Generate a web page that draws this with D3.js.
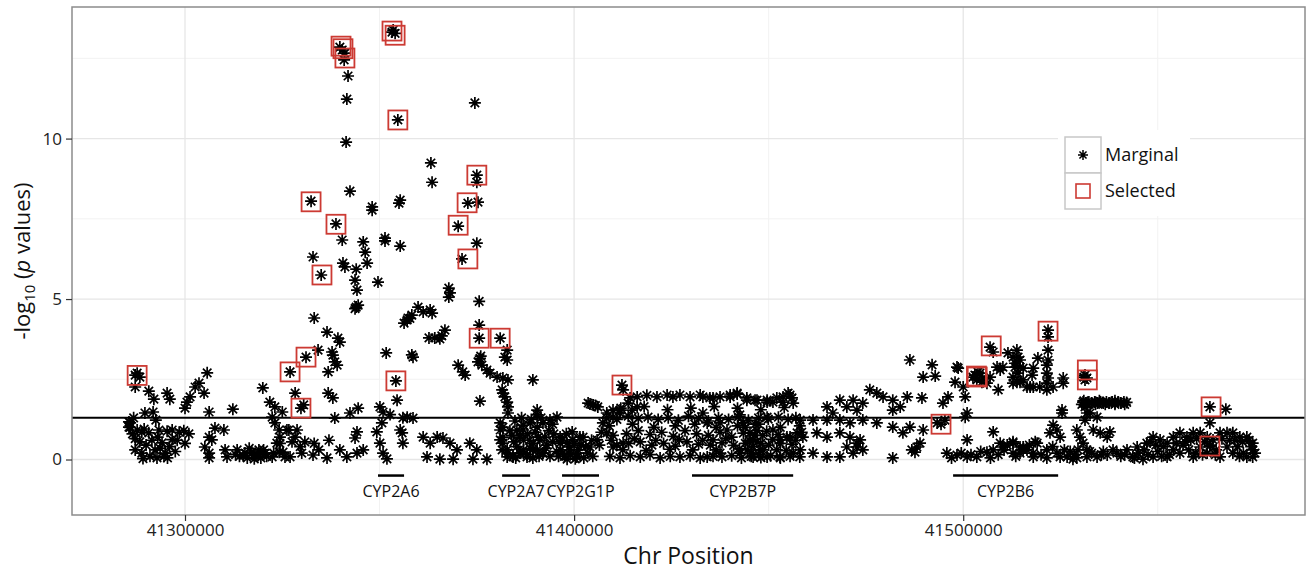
<!DOCTYPE html>
<html><head><meta charset="utf-8">
<script src="https://cdn.jsdelivr.net/npm/d3@7"></script>
<style>body{margin:0;background:#fff} svg text{font-family:'Open Sans',sans-serif}</style>
</head><body><svg id="c" width="1306" height="570"></svg>
<script>
// ---- axis / reference data ----
const xTicks = [41300000, 41400000, 41500000];
const xMinor = [41350000, 41450000, 41550000];
const yTicks = [0, 5, 10];
const yMinor = [2.5, 7.5, 12.5];
const threshold = 1.30103; // -log10(0.05)
const genes = ["CYP2A6", "CYP2A7", "CYP2G1P", "CYP2B7P", "CYP2B6"];
const geneStart = [41349600, 41381500, 41396900, 41430300, 41497400];
const geneEnd   = [41356300, 41388700, 41406400, 41456300, 41524400];
const geneLevel = -0.5, geneLabelLevel = -1.0;

// ---- marginal SNP results [position, -log10 p] ----
const marginalLeft = [
[41285600,1.17],[41285600,1.01],[41285900,1.14],[41285900,1.0],[41287200,2.63],[41287700,2.69],[41288400,2.57],
[41287200,2.26],[41290700,2.13],[41292000,1.88],[41295400,2.07],[41296100,1.88],[41289700,1.45],[41291800,1.48],
[41292500,1.23],[41287700,0.92],[41288900,0.85],[41290700,0.83],[41293300,0.92],[41295400,0.88],[41296700,0.92],
[41298500,0.85],[41299700,0.9],[41301000,0.8],[41287200,0.65],[41288400,0.55],[41291500,0.6],[41294100,0.52],
[41296700,0.62],[41300000,0.5],[41287200,0.3],[41288900,0.2],[41292300,0.3],[41294900,0.2],[41293600,0.35],
[41289200,0.03],[41292800,0.05],[41294600,0.1],[41300500,1.79],[41301300,1.95],[41302600,2.26],[41303600,2.38],
[41300000,1.6],[41304900,2.07],[41305700,2.7],[41306200,1.48],[41307700,0.98],[41310000,0.92],[41306200,0.7],
[41306900,0.61],[41305100,0.39],[41306200,0.2],[41306200,0.05],[41310300,0.3],[41310800,0.08],[41312300,1.57],
[41313400,0.3],[41315400,0.2],[41317200,0.23],[41319000,0.3],[41320600,0.2],[41322400,0.08],[41324200,0.23],
[41325700,0.08],[41327000,0.08],[41314000,0.1],[41316000,0.05],[41318000,0.12],[41319500,0.05],[41321000,0.1],
[41316500,0.35],[41318500,0.15],[41320000,2.23],[41321800,1.79],[41323100,1.64],[41325000,1.48],[41322400,1.32],
[41323100,1.14],[41324200,0.92],[41324400,0.7],[41323600,0.51],[41326700,0.92],[41328300,0.7],[41327500,0.55],
[41328300,2.07],[41325200,0.23],[41326200,0.92],[41328800,0.92],[41330800,0.55],[41327000,2.73],[41331100,3.19],
[41329800,1.6],[41330500,1.7],[41324400,0.5],[41329600,0.4],[41330000,0.2],
[41286500,0.8],[41290000,0.45],[41293000,0.7],[41296000,0.4],[41298000,0.6],[41289500,0.95],[41291000,0.1],
[41295500,0.05],[41297500,0.25],[41286800,1.3],[41315000,0.12],[41317800,0.02],[41320200,0.3],[41322800,0.2],
[41313000,0.15]
];
const marginalPeak = [
[41332900,6.31],[41335000,5.75],[41340600,6.12],[41341100,6.0],[41344000,5.93],[41346800,6.12],[41345800,6.78],
[41346300,6.46],[41340400,6.84],[41351400,6.81],[41355300,6.65],[41375000,6.74],[41343700,5.59],[41344200,5.28],
[41349600,5.53],[41344000,4.75],[41344500,4.81],[41343700,4.7],[41333200,4.41],[41336500,3.97],[41339300,3.78],
[41339800,3.66],[41334200,3.41],[41337800,3.35],[41338000,3.25],[41338500,3.04],[41339100,2.94],[41336800,2.73],
[41336800,2.07],[41338000,1.92],[41351700,3.32],[41358300,3.26],[41358600,3.19],[41356300,4.25],[41357300,4.41],
[41358300,4.5],[41357800,4.4],[41359900,4.75],[41361200,4.6],[41363000,4.66],[41363500,4.56],[41357100,4.35],
[41362700,3.79],[41364200,3.79],[41365500,3.76],[41366800,4.03],[41366000,3.85],[41354200,2.45],[41354500,1.85],
[41367800,5.34],[41368100,5.19],[41367800,5.06],[41375600,4.93],[41375600,4.19],[41371200,6.25],[41375600,3.78],
[41381000,3.78],[41370200,2.94],[41371400,2.73],[41372000,2.63],[41375300,3.04],[41376300,2.94],[41377600,2.79],
[41378400,2.69],[41380200,2.57],[41381700,2.54],[41383000,2.48],[41375800,3.15],[41376000,3.22],[41382200,3.19],
[41382800,3.41],[41382800,3.1],[41389400,2.48],[41375800,1.82],[41381500,2.17],[41382200,1.95],[41382800,1.79],
[41383000,1.64],[41383000,1.45],[41381700,2.07],[41390500,1.54],[41390500,1.39],
[41339800,12.85],[41340400,12.76],[41341100,12.66],[41340900,12.45],[41341900,11.95],[41341600,11.23],[41341400,9.89],
[41342400,8.36],[41348100,7.87],[41348100,7.77],[41355000,7.99],[41355300,8.08],[41353200,13.32],[41354000,13.28],
[41353500,13.38],[41354700,10.58],[41363200,9.24],[41363500,8.64],[41374500,11.11],[41375000,8.86],[41375000,8.64],
[41375300,8.02],[41372700,7.99],[41370200,7.27],[41332400,8.05],[41338800,7.34],[41351400,6.9],
[41342400,1.45],[41344500,1.6],[41338500,1.29],[41350100,1.64],[41350900,1.48],[41350600,1.14],[41349300,0.86],
[41350100,0.51],[41350900,0.2],[41351900,0.02],[41355300,0.92],[41355800,0.83],[41356000,0.51],[41357100,1.32],
[41358600,1.29],[41344200,0.86],[41343700,0.67],[41339800,0.3],[41341600,0.08],[41344200,0.2],[41345800,0.3],
[41336500,0.05],[41332900,0.14],[41361200,0.7],[41363000,0.51],[41364800,0.7],[41366300,0.67],[41368100,0.51],
[41369900,0.3],[41368900,0.01],[41365500,0.01],[41362200,0.08],[41373200,0.51],[41375000,0.3],[41377600,0.01],
[41374000,0.01],[41381000,0.92],[41381700,0.51],[41381500,0.3],[41382800,0.08],[41352700,1.4],[41356000,1.3],
[41333200,0.5],[41334400,0.3],[41337000,0.6]
];
const marginalMid = [
[41381000,1.14],[41381700,1.01],[41381700,0.7],[41385300,0.92],[41386900,1.07],[41388700,1.14],[41390500,1.01],
[41392000,1.14],[41393800,1.23],[41395600,1.32],[41384300,0.1],[41385300,0.4],[41386100,0.2],[41387000,0.6],
[41387900,0.15],[41388700,0.35],[41389400,0.05],[41390500,0.3],[41391200,0.6],[41392000,0.2],[41393000,0.45],
[41393800,0.1],[41386100,0.75],[41388000,0.8],[41390000,0.85],[41384500,0.55],[41392500,0.7],[41386100,0.7],
[41386900,0.92],[41381000,0.61],[41382800,0.3],[41384300,0.08],[41386100,0.2],[41387900,0.08],[41389400,0.3],
[41392000,0.2],[41396400,0.7],[41398200,0.51],[41398900,0.39],[41399700,0.61],[41401500,0.7],[41397100,0.2],
[41400700,0.2],[41399500,0.86],[41402300,0.7],[41396400,0.51],[41398900,0.3],[41398200,0.01],[41400700,0.08],
[41404100,0.39],[41405900,0.61],[41397500,0.1],[41399000,0.15],[41401000,0.3],[41402500,0.05],[41403500,0.2],
[41396500,0.3],[41403600,1.76],[41404900,1.7],[41406100,1.64],[41404100,1.73],[41405500,1.68],[41412300,2.32],
[41412600,2.17],[41410000,1.54],[41411800,1.45],[41413900,1.76],[41414900,1.54],[41416200,1.64],[41408400,1.45],
[41410000,1.32],[41411800,1.54],[41407400,1.14],[41408400,0.83],[41410000,0.39],[41412600,0.51],
[41409200,0.1],[41411800,0.05],[41414400,0.12],[41417000,0.08],[41419500,0.15],[41422100,0.05],[41424700,0.1],
[41427200,0.08],[41429800,0.12],[41432400,0.05],[41435700,0.1],
[41414400,1.92],[41416200,1.95],[41418700,2.0],[41421300,1.95],[41423900,2.01],[41425400,1.95],[41427200,2.01],
[41429800,1.95],[41432400,2.01],[41434900,1.92],[41437500,1.95],
[41408400,1.3],[41411000,1.25],[41413900,1.35],[41416500,1.28],[41419000,1.32],[41421600,1.25],[41424200,1.3],
[41426800,1.22],[41429400,1.35],[41432000,1.28],[41434500,1.2],[41437100,1.3],[41439700,1.25],[41442200,1.33],
[41444800,1.22],[41447400,1.3],[41449900,1.26],[41452500,1.32],[41455000,1.25],[41457000,1.3],
[41407000,0.85],[41410000,0.75],[41413500,0.8],[41416500,0.9],[41419500,0.78],[41422500,0.85],[41425500,0.72],
[41428500,0.9],[41431500,0.8],[41434500,0.75],[41437500,0.85],[41440500,0.7],[41443500,0.82],[41446500,0.75],
[41449500,0.88],[41452500,0.78],[41455500,0.7],[41458500,0.85],
[41411000,0.45],[41414000,0.5],[41417000,0.55],[41420000,0.45],[41423000,0.5],[41426000,0.42],[41429000,0.55],
[41432000,0.48],[41435000,0.45],[41438000,0.52],[41441000,0.44],[41444000,0.5],[41447000,0.55],[41450000,0.45],
[41453000,0.5],[41456000,0.48],
[41438000,0.08],[41440500,0.12],[41443000,0.05],[41445500,0.1],[41448000,0.06],[41450500,0.12],[41453000,0.05],
[41455500,0.1],[41458000,0.08],
[41433100,1.95],[41435700,1.92],[41440100,1.95],[41441900,2.04],[41444400,1.85],[41446500,1.85],[41449600,1.79],
[41452100,1.92],[41453700,1.79],[41455000,2.07],[41456000,1.92],[41440100,2.01],[41441900,2.07],[41444400,1.92],
[41447000,1.85],[41449600,1.85],[41451100,1.79],[41453700,1.95],[41455500,2.01],[41456300,1.76],
[41433100,1.45],[41434200,1.14],[41435700,0.61],[41437500,1.14],[41439300,0.92],[41442600,1.39],[41443400,1.14],
[41445200,0.83],[41446000,0.61],[41447800,0.3],[41449600,1.32],[41451100,0.92],[41452900,0.61],[41454700,0.7],
[41452100,0.3],[41446000,0.08],[41442600,0.2],[41437500,0.2],[41434200,0.08],[41449600,0.08],[41452900,0.08],
[41456300,0.2],[41444000,1.0],[41445000,0.6],[41446000,0.4],[41447000,0.9],[41448000,0.5],[41445500,0.2],
[41447500,0.15],[41444500,0.3],[41446500,1.1],[41448500,0.75],
[41383500,0.9],[41384800,1.2],[41386500,1.3],[41389000,1.25],[41391500,1.3],[41394500,1.1],[41385000,0.05],
[41387000,0.3],[41389500,0.5],[41391000,0.1],[41392800,0.35],[41394500,0.55],[41395500,0.25],[41383000,0.2],
[41384000,0.75],[41388500,0.6],[41390800,0.7],[41393500,0.9],[41394800,0.8],
[41397000,0.6],[41398000,0.8],[41400000,0.5],[41401800,0.45],[41403000,0.4],[41404500,0.6],[41406500,0.45],
[41396000,0.1],[41400300,0.02],[41404800,0.1],
[41409000,1.05],[41415000,1.1],[41420500,1.0],[41426000,1.05],[41431000,1.1],[41436500,1.0],[41442000,1.05],
[41447500,1.1],[41453000,1.0],[41458000,1.05],
[41409500,0.6],[41415500,0.65],[41421000,0.6],[41427000,0.62],[41433000,0.6],[41439000,0.65],[41445000,0.6],
[41451000,0.63],[41457000,0.6],
[41412500,0.3],[41418500,0.28],[41424500,0.32],[41430500,0.3],[41436500,0.3],[41442500,0.33],[41448500,0.3],
[41454500,0.28],
[41412000,1.6],[41418000,1.65],[41424000,1.55],[41430000,1.6],[41436000,1.65],[41442000,1.6],[41448000,1.55],
[41454000,1.62]
];
const marginalRight = [
[41465000,1.64],[41466500,1.45],[41468300,1.85],[41470100,1.64],[41471700,1.85],[41472700,1.54],[41474200,1.76],
[41476000,2.17],[41477800,2.07],[41479400,1.95],[41481900,1.85],[41483800,1.64],[41485600,1.95],[41489400,1.92],
[41481900,1.54],[41458100,1.23],[41461400,1.23],[41465000,1.23],[41468300,1.23],[41470900,1.14],[41474200,1.23],
[41477800,1.14],[41481900,1.01],[41484500,0.83],[41486300,1.01],[41489700,0.92],[41457300,0.83],[41458800,0.7],
[41462400,0.83],[41465000,0.7],[41468300,0.83],[41470900,0.7],[41473500,0.61],[41472700,0.39],[41458100,0.3],
[41461400,0.2],[41465000,0.08],[41468300,0.08],[41471700,0.2],[41474200,0.3],[41472700,0.51],[41470100,0.39],
[41481900,0.05],[41486800,0.3],[41488100,0.39],[41488900,0.51],[41487600,0.23],[41486300,3.1],[41492000,2.95],
[41489700,2.57],[41492800,2.6],[41498400,2.88],[41498700,2.85],[41497900,2.41],[41500000,2.26],[41500500,1.95],
[41496100,1.95],[41494800,1.76],[41501000,1.45],[41500500,1.32],[41494300,1.1],[41493300,1.14],[41495300,1.23],
[41507700,0.86],[41501000,0.61],[41506900,3.5],[41507700,3.35],[41508700,2.88],[41509500,2.79],[41510200,2.88],
[41509000,2.17],[41511500,3.32],[41512800,3.19],[41513800,3.41],[41514600,3.1],[41513300,2.88],[41514100,2.69],
[41512800,2.57],[41514600,2.41],[41516400,2.26],[41517200,2.26],[41502500,2.57],[41503500,2.48],[41504300,2.69],
[41505000,2.54],[41503000,2.63],[41503800,2.72],[41504800,2.41],[41506100,2.38],[41506900,2.57],
[41495800,0.2],[41498400,0.14],[41501000,0.08],[41503500,0.08],[41506100,0.23],[41507700,0.3],[41510200,0.39],
[41512800,0.2],[41515400,0.3],[41512800,0.51],[41515400,0.39],
[41514100,3.19],[41513300,3.0],[41514600,2.88],[41515400,2.85],[41518000,2.85],[41517700,2.63],[41515400,2.48],
[41513800,2.41],[41512800,2.38],[41518000,2.26],[41519700,2.26],[41521500,2.17],[41523100,2.26],
[41519200,3.16],[41521800,3.41],[41521800,3.1],[41521500,2.94],[41521500,2.69],[41521800,2.54],[41521500,2.38],
[41521800,4.03],[41521800,3.82],[41525700,2.54],[41525700,2.38],[41525400,1.54],[41525400,1.45],
[41531300,2.63],[41531300,2.48],[41531000,2.57],[41531800,2.54],
[41530800,1.79],[41531500,1.76],[41532300,1.79],[41533000,1.76],[41533800,1.79],[41534500,1.76],[41535300,1.79],
[41536000,1.76],[41536800,1.79],[41537500,1.76],[41538300,1.79],[41539000,1.76],[41539800,1.79],[41540500,1.76],
[41541300,1.79],[41542000,1.78],
[41531300,1.64],[41531800,1.45],[41531300,1.23],[41532600,1.45],[41534400,1.32],[41523100,1.07],[41524100,0.92],
[41524900,0.7],[41522300,0.83],[41529200,0.92],[41530000,0.7],[41530800,0.51],[41531800,0.3],[41529500,0.3],
[41533400,0.92],[41535200,0.83],[41537000,0.7],[41537700,0.86],
[41509500,0.51],[41511300,0.45],[41512800,0.55],[41514600,0.39],[41516400,0.3],[41518000,0.2],[41519000,0.51],
[41521500,0.3],[41524100,0.2],[41526700,0.08],[41529200,0.05],[41531800,0.08],[41534400,0.08],[41537000,0.14],
[41539500,0.2],[41542100,0.3],[41544700,0.39],[41547200,0.51],[41548800,0.7],[41550600,0.61],[41552400,0.51],
[41554000,0.7],[41555700,0.83],[41557500,0.7],[41559100,0.83],[41560900,0.83],[41562700,0.7],[41564200,0.61],
[41566000,0.83],[41567800,0.83],[41569300,0.83],[41571100,0.7],[41572900,0.7],[41574400,0.51],[41574400,0.3],
[41514600,0.2],[41518000,0.08],[41521500,0.05],[41524900,0.08],[41528200,0.01],[41543600,0.08],[41546200,0.01],
[41548800,0.08],[41552400,0.08],[41555700,0.2],[41559100,0.08],[41562700,0.2],[41566000,0.08],[41569300,0.2],
[41572900,0.08],[41574400,0.08],[41554000,0.3],[41560900,0.39],[41567800,0.39],
[41545000,0.2],[41550000,0.25],[41553000,0.15],[41556500,0.45],[41558000,0.3],[41561500,0.15],[41563500,0.45],
[41565000,0.3],[41568500,0.6],[41570500,0.4],[41572000,0.2],[41573500,0.6],[41557000,0.55],[41549500,0.45],
[41540500,0.1],[41536000,0.25],[41533000,0.2],[41527500,0.25],
[41563400,1.64],[41567500,1.57],[41563400,1.14],[41563400,0.42],[41518500,0.55],
[41510500,0.3],[41513500,0.1],[41517000,0.45],[41520000,0.15],[41523000,0.4],[41526000,0.3],[41528500,0.15],
[41532500,0.25],[41535500,0.15],[41538500,0.3],[41541500,0.15],[41544000,0.05],[41546500,0.3],[41548000,0.55],
[41551500,0.4],[41554800,0.5],[41558500,0.6],[41560000,0.65],[41562000,0.55],[41566500,0.65],[41569800,0.6],
[41571800,0.55],[41574000,0.4],[41575000,0.2],[41547500,0.15],[41551000,0.1],[41559800,0.2],[41564800,0.15],
[41571000,0.1],
[41530500,1.72],[41532000,1.72],[41534000,1.72],[41536500,1.72],[41539000,1.72],[41541500,1.72],[41531000,1.83],
[41535000,1.83],[41539000,1.83],
[41497000,0.05],[41499500,0.2],[41502000,0.15],[41504500,0.25],[41507000,0.05],[41509000,0.15]
];
// ---- jointly selected SNPs [position, -log10 p] ----
const selected = [
[41287700,2.62],[41327000,2.73],[41331100,3.19],[41329800,1.6],[41335200,5.75],[41354200,2.45],[41372700,6.25],
[41375600,3.78],[41381000,3.78],[41332400,8.03],[41338800,7.33],[41340100,12.88],[41340600,12.8],[41341100,12.51],
[41353200,13.35],[41354000,13.22],[41354700,10.58],[41375000,8.86],[41372500,8.0],[41370200,7.3],[41412300,2.32],
[41494300,1.1],[41503600,2.57],[41503400,2.6],[41507200,3.54],[41521800,4.0],[41531900,2.79],[41531900,2.48],
[41563700,1.64],[41563400,0.42]
];
const legendLabels = ["Marginal", "Selected"];

// ---- drawing ----
const P = {l: 72, r: 1305, t: 7, b: 515};
const svg = d3.select("#c");
const x = d3.scaleLinear().domain([41270959, 41587840]).range([P.l, P.r]);
const y = d3.scaleLinear().domain([-1.729, 14.1]).range([P.b, P.t]);
const red = "#cc3a33";

svg.append("defs").append("clipPath").attr("id", "clip")
  .append("rect").attr("x", P.l).attr("y", P.t).attr("width", P.r - P.l).attr("height", P.b - P.t);

const g = svg.append("g");
g.selectAll(".vmin").data(xMinor).enter().append("line")
  .attr("x1", d => x(d)).attr("x2", d => x(d)).attr("y1", P.t).attr("y2", P.b)
  .attr("stroke", "#f2f2f2").attr("stroke-width", 1);
g.selectAll(".hmin").data(yMinor).enter().append("line")
  .attr("y1", d => y(d)).attr("y2", d => y(d)).attr("x1", P.l).attr("x2", P.r)
  .attr("stroke", "#f2f2f2").attr("stroke-width", 1);
g.selectAll(".vmaj").data(xTicks).enter().append("line")
  .attr("x1", d => x(d)).attr("x2", d => x(d)).attr("y1", P.t).attr("y2", P.b)
  .attr("stroke", "#e6e6e6").attr("stroke-width", 1.3);
g.selectAll(".hmaj").data(yTicks).enter().append("line")
  .attr("y1", d => y(d)).attr("y2", d => y(d)).attr("x1", P.l).attr("x2", P.r)
  .attr("stroke", "#e6e6e6").attr("stroke-width", 1.3);

const plot = svg.append("g").attr("clip-path", "url(#clip)");
plot.append("line").attr("x1", P.l).attr("x2", P.r)
  .attr("y1", y(threshold)).attr("y2", y(threshold))
  .attr("stroke", "#000").attr("stroke-width", 2);
plot.selectAll(".gene").data(genes).enter().append("line")
  .attr("x1", (d, i) => x(geneStart[i])).attr("x2", (d, i) => x(geneEnd[i]))
  .attr("y1", y(geneLevel)).attr("y2", y(geneLevel))
  .attr("stroke", "#000").attr("stroke-width", 2.5);
plot.selectAll(".glab").data(genes).enter().append("text")
  .attr("x", (d, i) => x((geneStart[i] + geneEnd[i]) / 2)).attr("y", y(geneLabelLevel))
  .attr("text-anchor", "middle").attr("dy", "0.35em")
  .attr("font-size", 16).attr("fill", "#111").text(d => d);

function star(r) {
  const d = r * Math.SQRT1_2;
  return `M${-r},0L${r},0M0,${-r}L0,${r}M${-d},${-d}L${d},${d}M${-d},${d}L${d},${-d}`;
}
const marginal = marginalLeft.concat(marginalPeak, marginalMid, marginalRight);
plot.selectAll(".pt").data(marginal).enter().append("path")
  .attr("transform", d => `translate(${x(d[0])},${y(d[1])})`)
  .attr("d", star(6)).attr("stroke", "#000").attr("stroke-width", 1.7).attr("fill", "none");
const s = 19;
plot.selectAll(".sel").data(selected).enter().append("rect")
  .attr("x", d => x(d[0]) - s / 2).attr("y", d => y(d[1]) - s / 2)
  .attr("width", s).attr("height", s)
  .attr("fill", "none").attr("stroke", red).attr("stroke-width", 1.8);

svg.append("rect").attr("x", P.l).attr("y", P.t).attr("width", P.r - P.l).attr("height", P.b - P.t)
  .attr("fill", "none").attr("stroke", "#8c8c8c").attr("stroke-width", 1.5);

const xAxis = svg.append("g").attr("transform", `translate(0,${P.b})`)
  .call(d3.axisBottom(x).tickValues(xTicks).tickFormat(d3.format("d")).tickSize(6).tickPadding(3));
const yAxis = svg.append("g").attr("transform", `translate(${P.l},0)`)
  .call(d3.axisLeft(y).tickValues(yTicks).tickSize(6).tickPadding(4));
[xAxis, yAxis].forEach(a => {
  a.select(".domain").remove();
  a.selectAll(".tick line").attr("stroke", "#333").attr("stroke-width", 1.2);
  a.selectAll(".tick text").attr("fill", "#222").attr("font-size", 17)
    .attr("font-family", "'Open Sans',sans-serif");
});

svg.append("text").attr("x", (P.l + P.r) / 2).attr("y", 564).attr("text-anchor", "middle")
  .attr("font-size", 23).attr("fill", "#111").text("Chr Position");
const yt = svg.append("text").attr("transform", `translate(30,${(P.t + P.b) / 2}) rotate(-90)`)
  .attr("text-anchor", "middle").attr("font-size", 22).attr("fill", "#111");
yt.append("tspan").text("-log");
yt.append("tspan").attr("font-size", 15).attr("dy", 5).text("10");
yt.append("tspan").attr("dy", -5).text(" (");
yt.append("tspan").attr("font-style", "italic").text("p");
yt.append("tspan").text(" values)");

const lg = svg.append("g");
lg.append("rect").attr("x", 1058).attr("y", 130).attr("width", 132).attr("height", 86).attr("fill", "#fff");
legendLabels.forEach((lab, i) => {
  const ky = 137 + i * 36;
  lg.append("rect").attr("x", 1065).attr("y", ky).attr("width", 36).attr("height", 36)
    .attr("fill", "#fff").attr("stroke", "#c8c8c8").attr("stroke-width", 1.5);
  if (i === 0) {
    lg.append("path").attr("transform", `translate(1083,${ky + 18})`).attr("d", star(5))
      .attr("stroke", "#000").attr("stroke-width", 1.5).attr("fill", "none");
  } else {
    lg.append("rect").attr("x", 1076).attr("y", ky + 11).attr("width", 14).attr("height", 14)
      .attr("fill", "none").attr("stroke", red).attr("stroke-width", 1.6);
  }
  lg.append("text").attr("x", 1105).attr("y", ky + 18).attr("dy", "0.35em")
    .attr("font-size", 18).attr("fill", "#111").text(lab);
});
</script>
</body></html>
